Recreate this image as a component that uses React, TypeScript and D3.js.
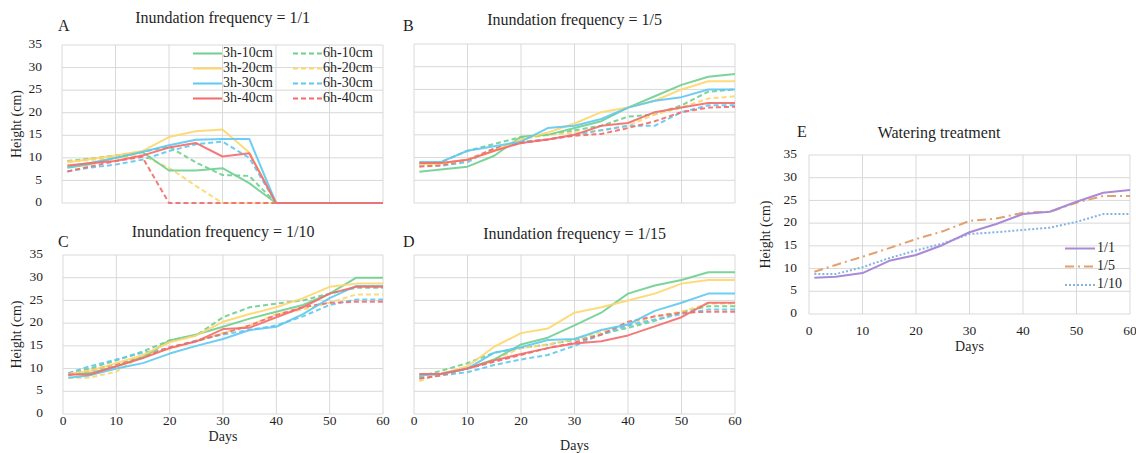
import React from "react";
import * as d3 from "d3";

const days = [1, 5, 10, 15, 20, 25, 30, 35, 40, 45, 50, 55, 60];
const seriesNames = ["3h-10cm", "3h-20cm", "3h-30cm", "3h-40cm", "6h-10cm", "6h-20cm", "6h-30cm", "6h-40cm"];
const seriesColors = ["#6fcf90", "#fdd66b", "#5ec8f2", "#f36b6b", "#6fcf90", "#fdd66b", "#5ec8f2", "#f36b6b"];
const seriesDashed = [false, false, false, false, true, true, true, true];
const yTicks = [0, 5, 10, 15, 20, 25, 30, 35];
const xTicks = [0, 10, 20, 30, 40, 50, 60];

// Inundation frequency = 1/1
const freqA = [
  [7.8, 8.5, 10.0, 11.3, 7.2, 7.2, 7.7, 4.4, 0, 0, 0, 0, 0],
  [9.0, 9.7, 10.5, 11.5, 14.6, 15.9, 16.3, 11.2, 0, 0, 0, 0, 0],
  [8.0, 8.8, 10.0, 11.3, 12.8, 14.0, 14.2, 14.2, 0, 0, 0, 0, 0],
  [8.3, 8.8, 9.3, 10.5, 12.3, 13.3, 10.3, 11.0, 0, 0, 0, 0, 0],
  [9.3, 9.8, 10.5, 11.3, 12.5, 9.0, 6.2, 6.0, 0, 0, 0, 0, 0],
  [9.2, 9.5, 10.0, 10.5, 7.8, 3.8, 0, 0, 0, 0, 0, 0, 0],
  [7.0, 7.8, 8.5, 9.6, 11.5, 13.0, 13.6, 10.0, 0, 0, 0, 0, 0],
  [7.0, 8.0, 9.3, 10.2, 0, 0, 0, 0, 0, 0, 0, 0, 0],
];
// Inundation frequency = 1/5
const freqB = [
  [6.9, 7.4, 8.0, 10.4, 14.6, 15.0, 16.5, 18.0, 21.0, 23.5, 26.0, 27.8, 28.4],
  [8.5, 8.7, 9.5, 11.5, 14.0, 15.5, 17.5, 20.0, 21.0, 22.5, 25.0, 26.8, 26.8],
  [9.0, 9.0, 11.5, 12.5, 13.5, 16.5, 17.0, 18.5, 21.0, 22.5, 23.3, 25.0, 25.0],
  [8.8, 8.8, 9.5, 11.5, 13.2, 14.0, 15.0, 17.0, 17.6, 20.0, 21.0, 22.0, 22.0],
  [8.5, 9.0, 11.5, 13.0, 14.5, 15.0, 16.0, 17.0, 19.0, 19.5, 21.5, 24.5, 25.0],
  [8.5, 8.7, 9.5, 11.5, 14.0, 15.0, 15.5, 16.0, 17.0, 19.5, 21.0, 23.0, 23.5],
  [8.2, 8.2, 9.0, 12.0, 13.5, 14.0, 15.0, 16.0, 17.0, 17.0, 20.0, 21.5, 21.5],
  [8.0, 8.3, 9.5, 12.0, 13.2, 14.0, 14.8, 15.2, 16.5, 18.0, 20.0, 21.0, 21.2],
];
// Inundation frequency = 1/10
const freqC = [
  [8.7, 9.0, 10.5, 12.5, 16.2, 17.5, 19.2, 21.0, 22.5, 24.0, 26.5, 30.0, 30.0],
  [8.8, 9.5, 11.2, 13.0, 15.8, 17.3, 20.3, 22.0, 23.5, 25.5, 28.0, 28.7, 28.7],
  [8.0, 8.5, 10.0, 11.2, 13.3, 15.0, 16.5, 18.5, 19.2, 22.0, 25.5, 28.2, 28.2],
  [8.7, 8.7, 10.5, 12.3, 14.5, 16.0, 18.7, 19.0, 21.3, 23.5, 26.5, 28.0, 28.0],
  [9.0, 10.0, 11.8, 13.8, 16.2, 17.3, 21.3, 23.5, 24.3, 25.0, 26.5, 27.8, 27.8],
  [8.0, 8.0, 9.3, 13.0, 14.3, 16.0, 17.8, 19.5, 22.0, 23.0, 24.5, 26.3, 26.3],
  [9.0, 10.5, 12.0, 13.5, 14.5, 16.2, 17.5, 18.5, 19.5, 21.5, 24.0, 25.2, 25.2],
  [8.5, 9.5, 11.0, 12.5, 14.7, 16.0, 17.7, 19.5, 21.8, 23.5, 24.5, 24.7, 24.7],
];
// Inundation frequency = 1/15
const freqD = [
  [8.7, 8.8, 10.0, 12.0, 15.3, 16.8, 19.5, 22.3, 26.5, 28.3, 29.5, 31.2, 31.2],
  [8.7, 8.8, 10.5, 14.8, 17.8, 18.8, 22.3, 23.5, 25.0, 26.5, 28.7, 29.5, 29.5],
  [8.5, 8.8, 10.0, 13.5, 14.7, 16.3, 16.5, 18.5, 19.7, 22.7, 24.5, 26.5, 26.5],
  [8.8, 8.8, 10.0, 11.8, 13.2, 14.5, 15.5, 16.0, 17.3, 19.3, 21.3, 24.5, 24.5],
  [8.2, 9.5, 11.2, 13.5, 14.5, 15.3, 16.3, 17.5, 19.0, 20.5, 22.5, 23.7, 23.7],
  [7.2, 9.0, 10.0, 12.0, 14.5, 15.3, 16.5, 18.0, 19.5, 21.5, 22.5, 24.3, 24.3],
  [7.8, 8.5, 9.2, 10.8, 12.0, 13.0, 15.0, 17.5, 19.5, 20.8, 22.0, 23.0, 23.0],
  [7.8, 8.5, 10.0, 11.5, 13.0, 14.5, 15.7, 17.5, 20.3, 21.5, 22.3, 22.5, 22.5],
];
// Watering treatment
const waterNames = ["1/1", "1/5", "1/10"];
const waterColors = ["#a98ad6", "#e3a070", "#85b3e0"];
const waterDash = ["", "9,4,2,4", "2,2"];
const water = [
  [8.0, 8.2, 9.0, 11.7, 13.0, 15.2, 18.0, 19.8, 22.0, 22.5, 24.7, 26.7, 27.3],
  [9.3, 10.8, 12.6, 14.5, 16.5, 18.2, 20.5, 21.0, 22.3, 22.5, 24.5, 26.0, 26.0],
  [8.8, 8.8, 10.3, 12.3, 14.0, 15.5, 17.6, 18.0, 18.5, 19.0, 20.3, 22.0, 22.0],
];

const FONT = "'Liberation Serif', 'Times New Roman', serif";
const TXT = "#1f1f1f";
const GRID = "#d9d9d9";
const TICK_FS = 13.5;
const TITLE_FS = 16;

type Box = { l: number; r: number; t: number; b: number };

function Grid({ x, y, box }: { x: any; y: any; box: Box }) {
  return (
    <g>
      {yTicks.map((v) => (
        <line key={"h" + v} x1={box.l} x2={box.r} y1={y(v)} y2={y(v)} stroke={GRID} strokeWidth={1} />
      ))}
      {xTicks.map((v) => (
        <line key={"v" + v} x1={x(v)} x2={x(v)} y1={box.t} y2={box.b} stroke={GRID} strokeWidth={1} />
      ))}
    </g>
  );
}

function Panel(props: {
  box: Box;
  data: number[][];
  title: string;
  titleY: number;
  letter: string;
  letterX: number;
  letterY: number;
  yLabels: boolean;
  xLabels: boolean;
  daysY?: number;
  legend?: boolean;
}) {
  const { box, data } = props;
  const x = d3.scaleLinear().domain([0, 60]).range([box.l, box.r]);
  const y = d3.scaleLinear().domain([0, 35]).range([box.b, box.t]);
  const line = d3
    .line<number>()
    .x((_, i) => x(days[i]))
    .y((v) => y(v));
  const order = [4, 5, 6, 7, 0, 1, 2, 3];
  const cx = (box.l + box.r) / 2;
  return (
    <g>
      <Grid x={x} y={y} box={box} />
      {order.map((i) => (
        <path
          key={i}
          d={line(data[i]) || ""}
          fill="none"
          stroke={seriesColors[i]}
          strokeWidth={2}
          strokeOpacity={0.9}
          strokeDasharray={seriesDashed[i] ? "5,3" : undefined}
          strokeLinejoin="round"
        />
      ))}
      <text x={cx} y={props.titleY} textAnchor="middle" dominantBaseline="middle" fontSize={TITLE_FS} fill={TXT}>
        {props.title}
      </text>
      <text x={props.letterX} y={props.letterY} dominantBaseline="middle" fontSize={16} fill={TXT}>
        {props.letter}
      </text>
      {props.yLabels && (
        <g>
          {yTicks.map((v) => (
            <text key={v} x={box.l - 20} y={y(v)} textAnchor="end" dominantBaseline="middle" fontSize={TICK_FS} fill={TXT}>
              {v}
            </text>
          ))}
          <text
            transform={`translate(${18},${(box.t + box.b) / 2}) rotate(-90)`}
            textAnchor="middle"
            dominantBaseline="middle"
            fontSize={14}
            fill={TXT}
          >
            Height (cm)
          </text>
        </g>
      )}
      {props.xLabels && (
        <g>
          {xTicks.map((v) => (
            <text key={v} x={x(v)} y={box.b + 8} textAnchor="middle" dominantBaseline="middle" fontSize={TICK_FS} fill={TXT}>
              {v}
            </text>
          ))}
          <text x={cx} y={props.daysY} textAnchor="middle" dominantBaseline="middle" fontSize={14} fill={TXT}>
            Days
          </text>
        </g>
      )}
      {props.legend && (
        <g>
          {seriesNames.map((n, i) => {
            const col = i < 4 ? 0 : 1;
            const row = i % 4;
            const lx = col === 0 ? 193 : 293;
            const ly = 53.5 + row * 15;
            return (
              <g key={n}>
                <line
                  x1={lx}
                  x2={lx + 29}
                  y1={ly}
                  y2={ly}
                  stroke={seriesColors[i]}
                  strokeWidth={2}
                  strokeDasharray={seriesDashed[i] ? "5,3" : undefined}
                />
                <text x={lx + 30} y={ly} dominantBaseline="middle" fontSize={14} fill={TXT}>
                  {n}
                </text>
              </g>
            );
          })}
        </g>
      )}
    </g>
  );
}

function WaterPanel() {
  const box: Box = { l: 809, r: 1130, t: 155, b: 314 };
  const x = d3.scaleLinear().domain([0, 60]).range([box.l, box.r]);
  const y = d3.scaleLinear().domain([0, 35]).range([box.b, box.t]);
  const line = d3
    .line<number>()
    .x((_, i) => x(days[i]))
    .y((v) => y(v));
  const drawOrder = [2, 1, 0];
  const legendY = [248.5, 266.5, 285];
  return (
    <g>
      <Grid x={x} y={y} box={box} />
      {drawOrder.map((i) => (
        <path
          key={i}
          d={line(water[i]) || ""}
          fill="none"
          stroke={waterColors[i]}
          strokeWidth={2}
          strokeDasharray={waterDash[i] || undefined}
          strokeLinejoin="round"
        />
      ))}
      <text x={939} y={134} textAnchor="middle" dominantBaseline="middle" fontSize={TITLE_FS} fill={TXT}>
        Watering treatment
      </text>
      <text x={797} y={133} dominantBaseline="middle" fontSize={16} fill={TXT}>
        E
      </text>
      {yTicks.map((v) => (
        <text key={v} x={box.l - 12} y={y(v)} textAnchor="end" dominantBaseline="middle" fontSize={TICK_FS} fill={TXT}>
          {v}
        </text>
      ))}
      <text
        transform={`translate(${767},${(box.t + box.b) / 2}) rotate(-90)`}
        textAnchor="middle"
        dominantBaseline="middle"
        fontSize={14}
        fill={TXT}
      >
        Height (cm)
      </text>
      {xTicks.map((v) => (
        <text key={v} x={x(v)} y={box.b + 18} textAnchor="middle" dominantBaseline="middle" fontSize={TICK_FS} fill={TXT}>
          {v}
        </text>
      ))}
      <text x={(box.l + box.r) / 2} y={348} textAnchor="middle" dominantBaseline="middle" fontSize={14} fill={TXT}>
        Days
      </text>
      {waterNames.map((n, i) => (
        <g key={n}>
          <line
            x1={1065}
            x2={1095}
            y1={legendY[i]}
            y2={legendY[i]}
            stroke={waterColors[i]}
            strokeWidth={2}
            strokeDasharray={waterDash[i] || undefined}
          />
          <text x={1097} y={legendY[i]} dominantBaseline="middle" fontSize={14} fill={TXT}>
            {n}
          </text>
        </g>
      ))}
    </g>
  );
}

export default function App() {
  return (
    <svg
      width={1136}
      height={453}
      style={{ position: "absolute", left: 0, top: 0, background: "#fff", fontFamily: FONT }}
    >
      <rect x={0} y={0} width={1136} height={453} fill="#fff" />
      <Panel box={{ l: 62, r: 383, t: 45, b: 203 }} data={freqA} title="Inundation frequency = 1/1" titleY={19}
        letter="A" letterX={58} letterY={27} yLabels xLabels={false} legend />
      <Panel box={{ l: 414, r: 735, t: 44, b: 203 }} data={freqB} title="Inundation frequency = 1/5" titleY={21}
        letter="B" letterX={403} letterY={27} yLabels={false} xLabels={false} />
      <Panel box={{ l: 63, r: 383, t: 255, b: 414 }} data={freqC} title="Inundation frequency = 1/10" titleY={233}
        letter="C" letterX={58} letterY={243} yLabels xLabels daysY={438} />
      <Panel box={{ l: 414, r: 735, t: 255, b: 414 }} data={freqD} title="Inundation frequency = 1/15" titleY={235}
        letter="D" letterX={403} letterY={243} yLabels={false} xLabels daysY={447} />
      <WaterPanel />
    </svg>
  );
}
